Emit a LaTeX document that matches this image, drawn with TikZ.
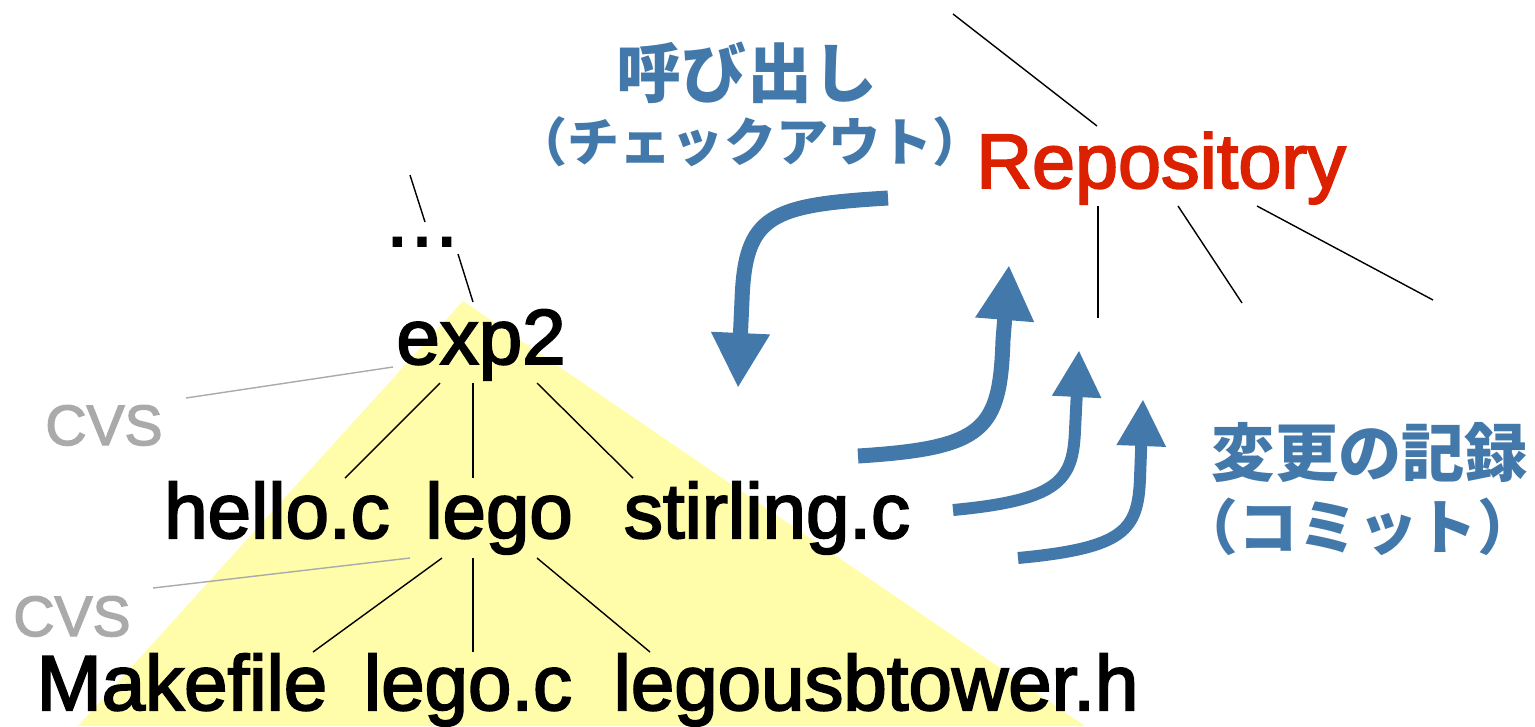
\documentclass[tikz,border=0pt]{standalone}
\usepackage{fontspec}
\setmainfont{Liberation Sans}
\newfontfamily\treefont[FakeBold=2.5]{Liberation Sans}
\newfontfamily\jpfont{Noto Sans CJK JP}
\usepackage{tikz}
\usetikzlibrary{arrows.meta,calc}
\definecolor{flowblue}{RGB}{67,121,170}
\definecolor{repored}{RGB}{220,33,0}
\definecolor{treeyellow}{RGB}{255,252,170}
\definecolor{cvsgray}{RGB}{170,170,170}

\begin{document}
\begin{tikzpicture}[x=0.1mm,y=-0.1mm,
    fname/.style={inner sep=0pt,anchor=base,font=\treefont\fontsize{22.2}{24}\selectfont},
    cvs/.style={inner sep=0pt,anchor=base,text=cvsgray,font=\treefont\fontsize{16.2}{18}\selectfont},
    jp/.style={inner sep=0pt,anchor=base,text=flowblue},
    flow/.style={flowblue,line width=1.5mm,-{Triangle[length=5.5mm,width=5.5mm]}},
    flowsm/.style={flowblue,line width=1.2mm,-{Triangle[length=4.7mm,width=4.6mm]}}]
\useasboundingbox (0,0) rectangle (1535,726);
\fill[treeyellow] (463,301) -- (1085,726) -- (78,726) -- cycle;

\node[fname] (dots) at (422,246) {…};
\node[fname] (exp2) at (481,364) {exp2};
\node[fname] (hello) at (277,538) {hello.c};
\node[fname] (lego) at (499,538) {lego};
\node[fname] (stirling) at (767,538) {stirling.c};
\node[fname] (make) at (182,710) {Makefile};
\node[fname] (legoc) at (468,710) {lego.c};
\node[fname] (tower) at (876,710) {legousbtower.h};
\node[cvs] (cvsa) at (104,445) {CVS};
\node[cvs] (cvsb) at (72,636) {CVS};
\node[fname,text=repored,font=\treefont\fontsize{22}{24}\selectfont] (repo) at (1161,188) {Repository};

\node[jp,font=\jpfont\bfseries\fontsize{18.5}{20}\selectfont] (call) at (747,97) {呼び出し};
\node[jp,font=\jpfont\bfseries\fontsize{14.8}{16}\selectfont] (callsub) at (750,161) {（チェックアウト）};
\node[jp,font=\jpfont\bfseries\fontsize{18}{20}\selectfont] (rec) at (1370,476) {変更の記録};
\node[jp,font=\jpfont\bfseries\fontsize{17}{20}\selectfont] (recsub) at (1358,549) {（コミット）};

\coordinate (treetop) at (410,175);
\draw (treetop) -- ($(dots.base)+(3,-24)$);
\draw ($(dots.base)+(36,8)$) -- ($(exp2.base)+(-8,-62)$);
\draw ($(exp2.base)+(-41,19)$) -- ($(hello.base)+(68,-60)$);
\draw ($(exp2.base)+(-8,19)$) -- ($(lego.base)+(-26,-60)$);
\draw ($(exp2.base)+(56,19)$) -- ($(stirling.base)+(-134,-60)$);
\draw ($(lego.base)+(-57,20)$) -- ($(make.base)+(131,-58)$);
\draw ($(lego.base)+(-26,20)$) -- ($(legoc.base)+(5,-58)$);
\draw ($(lego.base)+(38,20)$) -- ($(tower.base)+(-226,-58)$);
\draw[cvsgray] ($(cvsa.base)+(82,-47)$) -- ($(exp2.base)+(-88,3)$);
\draw[cvsgray] ($(cvsb.base)+(81,-48)$) -- ($(lego.base)+(-89,20)$);

\coordinate (repoup) at (953,14);
\coordinate (repoa) at (1098,318);
\coordinate (repob) at (1242,303);
\coordinate (repoc) at (1433,300);
\draw (repoup) -- ($(repo.base)+(-64,-62)$);
\draw ($(repo.base)+(-63,18)$) -- (repoa);
\draw ($(repo.base)+(17,18)$) -- (repob);
\draw ($(repo.base)+(96,18)$) -- (repoc);

\coordinate (coS) at (888,198);
\coordinate (coT) at (738,388);
\draw[flow] (coS) .. controls (770,205) and (745,215) .. (742,300) -- (coT);
\coordinate (ciA) at (858,456);
\coordinate (ciAT) at (1009,265);
\draw[flow] (ciA) .. controls (985,448) and (1000,430) .. (1003,340) -- (ciAT);
\coordinate (ciB) at (953,510);
\coordinate (ciBT) at (1079,350);
\draw[flowsm] (ciB) .. controls (1060,500) and (1073,480) .. (1075,430) -- (ciBT);
\coordinate (ciC) at (1018,558);
\coordinate (ciCT) at (1143,399);
\draw[flowsm] (ciC) .. controls (1125,548) and (1138,530) .. (1140,478) -- (ciCT);
\end{tikzpicture}
\end{document}
